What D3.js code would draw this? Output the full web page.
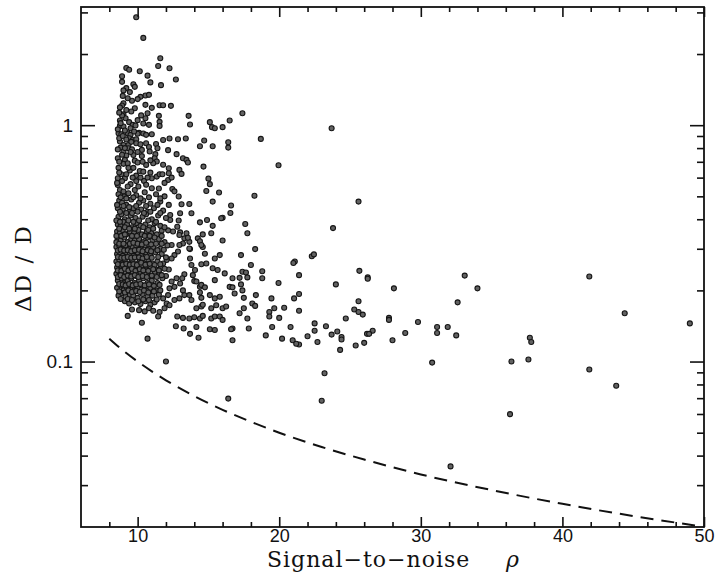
<!DOCTYPE html>
<html>
<head>
<meta charset="utf-8">
<script src="https://cdn.jsdelivr.net/npm/d3@7"></script>
<style>
  html, body { margin: 0; padding: 0; background: #fff; }
  svg { display: block; }
</style>
</head>
<body>
<svg id="chart" width="717" height="578"></svg>
<script>
// Axis ticks
const xMajorTicks = [10, 20, 30, 40, 50];
const xMinorTicks = [8, 12, 14, 16, 18, 22, 24, 26, 28, 32, 34, 36, 38, 42, 44, 46, 48];
const yMajorTicks = [0.1, 1];
const yMajorLabels = ["0.1", "1"];
const yMinorTicks = [0.03, 0.04, 0.05, 0.06, 0.07, 0.08, 0.09,
                     0.2, 0.3, 0.4, 0.5, 0.6, 0.7, 0.8, 0.9, 2, 3];

// Lower bound curve (dashed): [rho, dD/D]
const boundRho   = [8, 9, 10, 11, 12, 14, 16, 18, 20, 23, 26, 30, 35, 40, 45, 50];
const boundValue = [0.125, 0.111, 0.100, 0.0909, 0.0833, 0.0714, 0.0625, 0.0556,
                    0.050, 0.0435, 0.0385, 0.0333, 0.0286, 0.025, 0.0222, 0.020];

// Measurements: [signal-to-noise, relative error]
const outerPoints = [
  [23.7,0.97],[25.6,0.475],[23.8,0.367],[22.3,0.279],[22.45,0.284],[25.66,0.242],[26.25,0.227],[26.25,0.224],
  [21.4,0.232],[24.0,0.212],[33.1,0.231],[34.0,0.204],[28.1,0.204],[21.4,0.193],[25.6,0.180],[32.6,0.178],
  [41.9,0.229],[44.4,0.160],[49.0,0.145],[21.4,0.164],[25.3,0.166],[25.6,0.162],[25.9,0.158],[24.7,0.152],
  [27.75,0.153],[27.75,0.150],[29.8,0.147],[22.5,0.145],[23.3,0.141],[31.15,0.140],[31.9,0.140],[22.5,0.135],
  [24.1,0.134],[26.6,0.135],[26.2,0.131],[26.35,0.131],[28.9,0.132],[31.15,0.132],[22.0,0.128],[23.7,0.130],
  [32.5,0.129],[24.4,0.127],[24.4,0.124],[22.7,0.121],[21.4,0.118],[28.0,0.123],[26.0,0.120],[25.4,0.117],
  [24.3,0.112],[37.7,0.126],[37.8,0.121],[36.4,0.100],[37.6,0.102],[30.8,0.099],[23.2,0.0892],[41.9,0.0926],
  [43.8,0.0790],[23.0,0.0683],[36.3,0.0599],[32.1,0.0360]
];

const midPoints = [
  [21.1,0.265],[21.0,0.261],[19.95,0.215],[18.8,0.241],[18.8,0.225],[18.0,0.256],[17.4,0.240],[17.65,0.238],
  [17.75,0.227],[16.7,0.225],[17.2,0.226],[17.3,0.212],[17.4,0.200],[17.5,0.186],[18.35,0.191],[19.45,0.185],
  [21.05,0.185],[20.35,0.169],[19.65,0.168],[19.3,0.162],[19.3,0.155],[20.0,0.153],[18.1,0.176],[18.3,0.172],
  [17.5,0.168],[17.2,0.160],[17.75,0.152],[19.5,0.140],[20.8,0.140],[17.85,0.138],[19.05,0.129],[20.2,0.125],
  [20.95,0.123],[21.2,0.119],[16.7,0.123],[16.7,0.138],
  [17.4,1.124],[18.7,0.875],[19.95,0.677],[18.25,0.503],[15.3,0.475],[16.6,0.457],[16.55,0.425],[16.0,0.406],
  [15.9,0.404],[17.6,0.382],[17.75,0.349],[14.4,0.388],[14.9,0.397],[15.3,0.375],[15.2,0.349],[16.0,0.325],
  [18.3,0.299],[13.7,0.299],[14.6,0.305],[14.75,0.286],[15.8,0.282],[17.3,0.282],[13.65,0.464],[13.8,0.424],
  [13.1,0.463],[12.9,0.499],[12.9,0.395],[12.8,0.372],[12.3,0.417],[12.3,0.397],[11.7,0.358],[12.15,0.359],
  [12.5,0.355],[13.0,0.352],[13.45,0.349],[13.3,0.332],[13.2,0.316],[12.4,0.311],[12.95,0.311],[14.25,0.332],
  [14.4,0.323],[14.5,0.311],
  [15.45,0.273],[15.3,0.248],[15.65,0.244],[15.45,0.221],[16.15,0.236],[16.5,0.207],[16.7,0.206],[16.85,0.194],
  [15.45,0.185],[15.55,0.173],[16.0,0.168],[16.25,0.171],[15.2,0.168],[15.1,0.191],[15.8,0.188],[14.5,0.186],
  [14.4,0.196],[14.4,0.207],[14.15,0.168],[14.5,0.171],[14.6,0.174],[15.2,0.152],[15.45,0.155],[15.8,0.155],
  [16.0,0.150],[14.4,0.152],[14.6,0.156],[14.15,0.140],[15.1,0.137],[15.45,0.136],[16.6,0.137],[13.7,0.131],
  [14.3,0.126],[12.7,0.141],[13.25,0.138],[12.8,0.155],[13.2,0.153],[13.65,0.152],[14.0,0.154],[13.8,0.256],
  [13.7,0.273],[14.05,0.244],[14.5,0.258],[14.85,0.260],[13.9,0.232],[14.0,0.219],[14.15,0.218],[14.5,0.211],
  [14.75,0.206],[13.3,0.234],[13.15,0.225],[13.65,0.301],[13.65,0.321],[12.95,0.343],[13.55,0.334],[14.6,0.345],
  [13.0,0.424],[12.85,0.292],[12.6,0.282],[12.4,0.273],[12.05,0.269],[12.75,0.225],[13.0,0.214],[12.6,0.207],
  [13.2,0.200],[13.3,0.191],[12.95,0.185],[12.6,0.182],[13.65,0.191],[13.8,0.182],[12.4,0.218],[12.25,0.204],
  [12.15,0.191],[11.8,0.185],[12.05,0.176],[12.25,0.173],[11.9,0.168],[11.55,0.162],[11.45,0.155],
  [16.4,0.0697],[12.0,0.100],[10.7,0.125],[10.3,0.146],[9.3,0.156]
];

const upperPoints = [
  [9.9,2.86],[10.4,2.34],[11.6,1.92],[11.45,1.78],[12.25,1.74],[9.2,1.745],[9.4,1.715],[10.15,1.69],
  [10.7,1.62],[12.7,1.56],[8.9,1.61],[8.9,1.525],[10.9,1.517],[9.7,1.49],[9.8,1.453],[11.65,1.477],
  [9.2,1.435],[9.0,1.403],[10.55,1.336],[10.2,1.318],[10.8,1.344],[10.0,1.289],[9.6,1.268],[9.0,1.239],
  [8.9,1.212],[8.75,1.189],[10.55,1.219],[11.55,1.215],[11.8,1.215],[12.35,1.207],[11.0,1.184],[9.8,1.18],
  [9.55,1.143],[10.7,1.124],[11.5,1.095],[9.0,1.113],[9.15,1.07],[13.6,1.095],[10.55,1.07],[8.75,1.047],
  [9.4,1.03],[13.7,1.007],[15.1,1.03],[15.25,0.981],[15.45,0.971],[16.0,0.981],[16.5,1.047],[11.55,1.033],
  [11.55,0.993],[8.75,0.993],[9.0,0.987],[9.65,1.003],[9.85,0.997],[10.4,1.017],[10.8,1.003],[8.65,0.925],
  [8.85,0.916],[9.3,0.925],[9.5,0.91],[9.4,0.881],[9.65,0.866],[10.1,0.928],[10.4,0.922],[10.6,0.91],
  [11.0,0.916],[11.8,0.866],[12.25,0.878],[12.85,0.872],[13.4,0.878],[14.4,0.815],[14.7,0.861],[15.3,0.815],
  [16.4,0.847],[16.4,0.804],[8.75,0.853],[9.0,0.825],[8.8,0.804],[9.35,0.825],[9.35,0.799],[9.9,0.872],
  [9.9,0.839],[10.6,0.839],[10.8,0.809],[10.85,0.774],[11.3,0.833],[11.4,0.799],[11.25,0.754],[12.15,0.784],
  [10.3,0.786],[9.0,0.774],[9.2,0.744],[9.1,0.713],[9.0,0.686],[8.6,0.725],[9.7,0.748],[9.8,0.708],
  [10.0,0.695],[10.6,0.679],[11.2,0.725],[11.35,0.702],[11.1,0.69],[12.75,0.754],[13.2,0.725],[13.45,0.713],
  [13.55,0.695],[12.2,0.657],[12.2,0.626],[14.65,0.668],[12.95,0.647],[13.1,0.622],[8.6,0.596],[8.85,0.62],
  [9.1,0.596],[9.45,0.643],[9.9,0.612],[10.15,0.64],[10.4,0.636],[11.0,0.596],[11.35,0.606],[11.55,0.62],
  [11.75,0.62],[10.45,0.581],[8.6,0.558],[8.75,0.532],[9.0,0.524],[9.5,0.563],[9.8,0.532],[10.05,0.55],
  [11.0,0.541],[12.15,0.586],[12.45,0.537],[15.0,0.594],[15.1,0.563],[14.85,0.527],[15.75,0.519],
  [8.6,0.96],[8.7,0.88],[8.6,0.79],[8.65,0.66],[8.7,0.63],[8.55,0.57],[9.6,0.79],[10.3,0.74],[9.3,0.69],
  [10.9,0.63],[9.9,0.58],[10.6,0.56],[11.9,0.57],[12.4,0.6],[8.9,1.1],[9.2,1.16],[9.5,0.97],[10.0,1.05],
  [8.7,1.13],[8.8,1.02],[9.1,0.95],[8.95,0.9],[9.2,0.87],[9.55,0.85],[9.1,0.8],[9.5,0.77],[8.9,0.75],
  [8.7,0.7],[9.35,0.66],[9.7,0.66],[9.2,0.62],[8.9,0.58],[9.3,0.55],[9.65,0.6],[10.2,0.6],[10.35,0.7],
  [10.0,0.77],[10.2,0.83],[10.0,0.92],[9.75,0.94],[10.25,1.1],[9.3,1.3],[8.95,1.33],[9.45,1.38],
  [10.9,0.71],[10.7,0.6],[11.8,0.68],[11.5,0.54]
];

const corePoints = [
  [8.65,0.51],[9.05,0.50],[9.35,0.515],[9.9,0.505],[10.5,0.52],[11.3,0.51],[11.9,0.50],[12.6,0.525],
  [8.7,0.48],[8.9,0.47],[9.2,0.46],[9.55,0.485],[10.1,0.47],[10.4,0.48],[10.9,0.465],[11.6,0.475],[12.2,0.46],
  [8.6,0.445],[8.95,0.44],[9.4,0.43],[9.7,0.445],[10.25,0.44],[10.7,0.43],[11.15,0.445],[11.8,0.435],
  [8.65,0.41],[8.85,0.42],[9.1,0.40],[9.5,0.415],[9.85,0.405],[10.35,0.41],[10.6,0.42],[11.0,0.40],[11.45,0.415],[12.0,0.405],
  [8.6,0.38],[8.8,0.375],[9.0,0.39],[9.25,0.38],[9.6,0.37],[9.95,0.385],[10.2,0.375],[10.55,0.38],[10.85,0.37],[11.2,0.385],[11.6,0.375],
  [8.55,0.355],[8.75,0.35],[8.95,0.36],[9.2,0.345],[9.45,0.355],[9.75,0.35],[10.05,0.36],[10.3,0.345],[10.65,0.355],[10.95,0.35],[11.35,0.345],
  [8.6,0.33],[8.8,0.325],[9.05,0.335],[9.3,0.32],[9.55,0.33],[9.8,0.325],[10.1,0.33],[10.4,0.32],[10.7,0.335],[11.05,0.325],[11.5,0.33],[11.9,0.32],
  [8.5,0.305],[8.7,0.31],[8.9,0.30],[9.15,0.31],[9.4,0.30],[9.65,0.305],[9.9,0.31],[10.2,0.30],[10.5,0.31],[10.8,0.30],[11.1,0.305],[11.6,0.30],[12.1,0.31],
  [8.55,0.285],[8.75,0.29],[8.95,0.28],[9.2,0.29],[9.45,0.285],[9.7,0.28],[10.0,0.29],[10.25,0.28],[10.55,0.29],[10.9,0.28],[11.25,0.29],[11.7,0.285],
  [8.5,0.265],[8.7,0.27],[8.9,0.26],[9.1,0.27],[9.35,0.26],[9.6,0.27],[9.85,0.26],[10.15,0.27],[10.45,0.26],[10.75,0.27],[11.05,0.26],[11.4,0.265],[11.8,0.26],
  [8.55,0.25],[8.8,0.255],[9.0,0.245],[9.25,0.25],[9.5,0.255],[9.75,0.245],[10.05,0.25],[10.3,0.255],[10.6,0.245],[10.95,0.25],[11.3,0.245],[11.65,0.25],[12.2,0.245],
  [8.5,0.235],[8.7,0.24],[8.95,0.23],[9.15,0.24],[9.4,0.235],[9.65,0.24],[9.9,0.23],[10.2,0.24],[10.5,0.235],[10.85,0.23],[11.2,0.24],[11.55,0.235],[12.0,0.23],
  [8.6,0.22],[8.85,0.225],[9.05,0.215],[9.3,0.22],[9.55,0.225],[9.8,0.215],[10.1,0.22],[10.4,0.225],[10.7,0.215],[11.0,0.22],[11.4,0.215],[11.75,0.225],
  [8.55,0.205],[8.8,0.21],[9.0,0.20],[9.25,0.205],[9.5,0.21],[9.75,0.20],[10.0,0.205],[10.3,0.21],[10.6,0.20],[10.9,0.205],[11.3,0.20],
  [8.65,0.19],[8.9,0.195],[9.15,0.188],[9.45,0.192],[9.7,0.19],[10.0,0.186],[10.35,0.193],[10.7,0.188],[11.05,0.19],[11.5,0.192],
  [9.1,0.18],[9.4,0.176],[9.8,0.178],[10.2,0.175],[10.55,0.18],[10.9,0.174],[11.2,0.178],
  [9.6,0.166],[10.1,0.165],[10.5,0.163],[10.8,0.168],[11.1,0.164]
];

const coreFill = [
  [8.8,0.495],[9.2,0.49],[9.7,0.495],[10.2,0.49],[10.8,0.495],[11.6,0.49],
  [8.55,0.46],[9.0,0.455],[9.4,0.45],[9.9,0.455],[10.6,0.455],[11.4,0.46],
  [8.75,0.43],[9.2,0.425],[9.6,0.425],[10.0,0.43],[10.45,0.425],[10.9,0.43],[11.6,0.425],
  [8.5,0.395],[8.75,0.39],[9.35,0.395],[9.7,0.39],[10.1,0.395],[10.75,0.395],[11.3,0.39],
  [8.7,0.365],[9.1,0.37],[9.4,0.365],[9.8,0.365],[10.4,0.37],[10.75,0.36],[11.1,0.365],[11.9,0.37],
  [8.5,0.34],[8.85,0.34],[9.1,0.345],[9.6,0.34],[9.95,0.34],[10.5,0.34],[10.85,0.34],[11.2,0.335],[11.7,0.34],
  [8.5,0.32],[8.7,0.315],[9.0,0.315],[9.45,0.315],[9.7,0.318],[10.0,0.315],[10.3,0.313],[10.6,0.318],[10.95,0.313],[11.3,0.315],[11.7,0.315],
  [8.6,0.295],[8.8,0.298],[9.05,0.295],[9.3,0.296],[9.55,0.293],[9.8,0.296],[10.1,0.297],[10.35,0.293],[10.7,0.296],[10.95,0.293],[11.4,0.296],[11.85,0.297],
  [8.6,0.277],[8.85,0.275],[9.05,0.275],[9.3,0.277],[9.55,0.275],[9.8,0.276],[10.1,0.276],[10.35,0.273],[10.65,0.277],[11.0,0.275],[11.45,0.277],[12.0,0.276],
  [8.6,0.258],[8.95,0.257],[9.2,0.259],[9.45,0.257],[9.7,0.258],[9.95,0.256],[10.25,0.262],[10.55,0.257],[10.85,0.259],[11.2,0.256],[11.6,0.258],
  [8.6,0.243],[8.85,0.242],[9.1,0.247],[9.35,0.243],[9.6,0.247],[9.85,0.242],[10.15,0.246],[10.4,0.243],[10.75,0.242],[11.1,0.246],[11.5,0.243],[11.9,0.247],
  [8.6,0.228],[8.8,0.232],[9.05,0.228],[9.3,0.231],[9.55,0.229],[9.8,0.232],[10.05,0.228],[10.35,0.23],[10.65,0.228],[11.0,0.231],[11.35,0.228],[11.7,0.232],
  [8.7,0.213],[8.95,0.212],[9.15,0.21],[9.4,0.213],[9.65,0.21],[9.9,0.212],[10.2,0.213],[10.5,0.21],[10.8,0.212],[11.15,0.209],[11.55,0.211],
  [8.7,0.198],[9.1,0.196],[9.35,0.2],[9.6,0.197],[9.9,0.199],[10.15,0.197],[10.45,0.2],[10.75,0.196],[11.15,0.198],[11.6,0.2],
  [8.8,0.184],[9.3,0.184],[9.6,0.182],[10.05,0.18],[10.4,0.183],[10.8,0.182],[11.35,0.183]
];

// Layout
const plot = { left: 81, right: 704, top: 7, bottom: 527 };

const x = d3.scaleLinear().domain([6, 50]).range([plot.left, plot.right]);
const y = d3.scaleLog().domain([Math.pow(10, -1.7), Math.pow(10, 0.5)]).range([plot.bottom, plot.top]);

const svg = d3.select("#chart");

// Points
const allPoints = [].concat(outerPoints, midPoints, upperPoints, corePoints, coreFill);
svg.append("g")
  .selectAll("circle")
  .data(allPoints)
  .join("circle")
  .attr("cx", d => x(d[0]))
  .attr("cy", d => y(d[1]))
  .attr("r", 2.5)
  .attr("fill", "#626262")
  .attr("stroke", "#151515")
  .attr("stroke-width", 1.1);

// Dashed bound curve
const boundData = boundRho.map((r, i) => [r, boundValue[i]]);
svg.append("path")
  .datum(boundData)
  .attr("fill", "none")
  .attr("stroke", "#111")
  .attr("stroke-width", 2)
  .attr("stroke-dasharray", "13,8")
  .attr("d", d3.line().x(d => x(d[0])).y(d => y(d[1])).curve(d3.curveMonotoneX));

// Axes with inward ticks on all four sides
function styleAxis(g) {
  g.select(".domain").remove();
  g.selectAll(".tick line").attr("stroke", "#111").attr("stroke-width", 1.6);
}
const tickFont = "'Liberation Sans', Arial, sans-serif";

svg.append("g")
  .attr("transform", `translate(0,${plot.bottom})`)
  .call(d3.axisBottom(x).tickValues(xMajorTicks).tickSize(-10).tickPadding(2).tickFormat(d3.format("d")))
  .call(styleAxis)
  .call(g => g.selectAll("text")
    .attr("fill", "#111")
    .style("font-family", tickFont)
    .style("font-size", "18px"));

svg.append("g")
  .attr("transform", `translate(0,${plot.bottom})`)
  .call(d3.axisBottom(x).tickValues(xMinorTicks).tickSize(-5).tickFormat(""))
  .call(styleAxis);

svg.append("g")
  .attr("transform", `translate(0,${plot.top})`)
  .call(d3.axisTop(x).tickValues(xMajorTicks).tickSize(-10).tickFormat(""))
  .call(styleAxis);
svg.append("g")
  .attr("transform", `translate(0,${plot.top})`)
  .call(d3.axisTop(x).tickValues(xMinorTicks).tickSize(-5).tickFormat(""))
  .call(styleAxis);

svg.append("g")
  .attr("transform", `translate(${plot.left},0)`)
  .call(d3.axisLeft(y).tickValues(yMajorTicks).tickSize(-14).tickPadding(8)
    .tickFormat((d, i) => yMajorLabels[i]))
  .call(styleAxis)
  .call(g => g.selectAll("text")
    .attr("fill", "#111")
    .style("font-family", tickFont)
    .style("font-size", "19px"));
svg.append("g")
  .attr("transform", `translate(${plot.left},0)`)
  .call(d3.axisLeft(y).tickValues(yMinorTicks).tickSize(-7).tickFormat(""))
  .call(styleAxis);

svg.append("g")
  .attr("transform", `translate(${plot.right},0)`)
  .call(d3.axisRight(y).tickValues(yMajorTicks).tickSize(-14).tickFormat(""))
  .call(styleAxis);
svg.append("g")
  .attr("transform", `translate(${plot.right},0)`)
  .call(d3.axisRight(y).tickValues(yMinorTicks).tickSize(-7).tickFormat(""))
  .call(styleAxis);

// Frame
svg.append("rect")
  .attr("x", plot.left).attr("y", plot.top)
  .attr("width", plot.right - plot.left).attr("height", plot.bottom - plot.top)
  .attr("fill", "none").attr("stroke", "#111").attr("stroke-width", 1.8);

// Axis titles
const titleFont = "'DejaVu Serif', serif";
svg.append("text")
  .attr("x", 267).attr("y", 567)
  .style("font-family", titleFont)
  .style("font-size", "22px")
  .style("letter-spacing", "1px")
  .attr("fill", "#111")
  .text("Signal\u2212to\u2212noise");
svg.append("text")
  .attr("x", 506).attr("y", 567)
  .style("font-family", titleFont)
  .style("font-size", "22px")
  .style("font-style", "italic")
  .attr("fill", "#111")
  .text("\u03c1");

svg.append("text")
  .attr("transform", "translate(31,268) rotate(-90)")
  .attr("text-anchor", "middle")
  .style("font-family", titleFont)
  .style("font-size", "23px")
  .style("letter-spacing", "2px")
  .attr("fill", "#111")
  .text("\u0394D / D");
</script>
</body>
</html>
